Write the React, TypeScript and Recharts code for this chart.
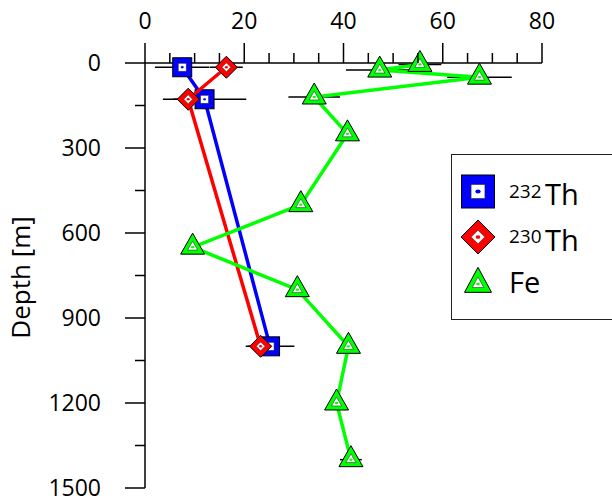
import React from 'react';
import { ScatterChart, Scatter, XAxis, YAxis, ErrorBar, Legend } from 'recharts';

// ---- data ----
const th232Depth = [15, 128, 1000];
const th232Conc = [7.5, 12.0, 25.2];
const th232Err = [5.5, 8.4, 4.9];

const th230Depth = [15, 128, 1000];
const th230Conc = [16.4, 8.7, 23.3];
const th230Err = [3.3, 3.0, 2.5];

const feDepth = [5, 25, 50, 120, 250, 500, 650, 800, 1000, 1200, 1400];
const feConc = [55.4, 47.3, 67.4, 34.1, 40.8, 31.4, 9.6, 30.7, 41.0, 38.6, 41.5];
const feErr = [4.3, 6.8, 6.5, 5.2, 1.5, 1.5, 1.5, 1.5, 1.5, 1.5, 2.2];

const xTicks = [0, 5, 10, 15, 20, 25, 30, 35, 40, 45, 50, 55, 60, 65, 70, 75, 80];
const yTicks = [0, 150, 300, 450, 600, 750, 900, 1050, 1200, 1350, 1500];
const xLabelStep = 20;
const yLabelStep = 300;

const build = (depth: number[], conc: number[], err: number[]) =>
  depth.map((d, i) => ({ x: conc[i], y: d, err: err[i] }));

const th232Data = build(th232Depth, th232Conc, th232Err);
const th230Data = build(th230Depth, th230Conc, th230Err);
const feData = build(feDepth, feConc, feErr);

const BLUE = '#0000ff';
const RED = '#ff0000';
const GREEN = '#00ff00';
const FONT = '"Open Sans", "Noto Sans", sans-serif';

// ---- marker shapes ----
const SquareMark = ({ cx, cy, markSize = 19 }: any) => {
  const s = markSize;
  const h = s / 2;
  const i = s * 0.21;
  return (
    <g>
      <rect x={cx - h} y={cy - h} width={s} height={s} fill={BLUE} stroke="#000" strokeWidth={1} />
      <rect x={cx - i} y={cy - i} width={2 * i} height={2 * i} fill="#fff" stroke="#333" strokeWidth={0.6} />
      <ellipse cx={cx} cy={cy} rx={s * 0.08} ry={s * 0.06} fill={BLUE} />
    </g>
  );
};

const DiamondMark = ({ cx, cy, markSize = 22 }: any) => {
  const h = markSize / 2;
  const i = h * 0.4;
  return (
    <g>
      <polygon points={`${cx},${cy - h} ${cx + h},${cy} ${cx},${cy + h} ${cx - h},${cy}`} fill={RED} stroke="#000" strokeWidth={1} />
      <polygon points={`${cx},${cy - i} ${cx + i},${cy} ${cx},${cy + i} ${cx - i},${cy}`} fill="#fff" stroke="#333" strokeWidth={0.6} />
      <ellipse cx={cx} cy={cy} rx={markSize * 0.07} ry={markSize * 0.055} fill={RED} />
    </g>
  );
};

const TriangleMark = ({ cx, cy, triW = 24, triH = 21 }: any) => {
  // centred on the centroid
  const w = triW;
  const hgt = triH;
  const top = cy - (2 / 3) * hgt;
  const bot = cy + hgt / 3;
  const s = 0.42;
  const it = cy - (2 / 3) * hgt * s;
  const ib = cy + (hgt / 3) * s;
  const iw = (w / 2) * s;
  return (
    <g>
      <polygon points={`${cx},${top} ${cx + w / 2},${bot} ${cx - w / 2},${bot}`} fill={GREEN} stroke="#000" strokeWidth={1} />
      <polygon points={`${cx},${it} ${cx + iw},${ib} ${cx - iw},${ib}`} fill="#fff" stroke="#333" strokeWidth={0.6} />
      <ellipse cx={cx} cy={cy} rx={w * 0.07} ry={w * 0.05} fill={GREEN} />
    </g>
  );
};

const NoMark = () => <g />;

// ---- axis ticks ----
const XTick = (props: any) => {
  const { x, y, payload } = props;
  const major = payload.value % xLabelStep === 0;
  const len = major ? 20 : 10;
  return (
    <g>
      <line x1={x} y1={y} x2={x} y2={y - len} stroke="#000" strokeWidth={1.5} />
      {major && (
        <text x={x} y={y - len - 14} textAnchor="middle" fontFamily={FONT} fontSize={23} fill="#000">
          {payload.value}
        </text>
      )}
    </g>
  );
};

const YTick = (props: any) => {
  const { x, y, payload } = props;
  const major = payload.value % yLabelStep === 0;
  const len = major ? 20 : 10;
  return (
    <g>
      <line x1={x} y1={y} x2={x - len} y2={y} stroke="#000" strokeWidth={1.5} />
      {major && (
        <text x={x - 44} y={y} dy="0.34em" textAnchor="end" fontFamily={FONT} fontSize={23} fill="#000">
          {payload.value}
        </text>
      )}
    </g>
  );
};

const DepthLabel = (props: any) => {
  const vb = props.viewBox || { x: 45, y: 63, width: 100, height: 425 };
  const cx = vb.x - 25;
  const cy = vb.y + vb.height / 2 + 2;
  return (
    <text
      x={cx}
      y={cy}
      transform={`rotate(-90 ${cx} ${cy})`}
      textAnchor="middle"
      dominantBaseline="central"
      fontFamily={FONT}
      fontSize={26}
      fill="#000"
    >
      Depth [m]
    </text>
  );
};

// ---- legend ----
const legendOrder = ['th232', 'th230', 'fe'];
const legendRows: Record<string, { sup?: string; main: string }> = {
  th232: { sup: '232', main: 'Th' },
  th230: { sup: '230', main: 'Th' },
  fe: { main: 'Fe' },
};

const LegendContent = (props: any) => {
  const payload = (props.payload || [])
    .filter((p: any) => legendRows[p.value])
    .sort((a: any, b: any) => legendOrder.indexOf(a.value) - legendOrder.indexOf(b.value));
  const rowY = [37.5, 83, 126];
  return (
    <div
      style={{
        width: 180,
        height: 166,
        border: '1.5px solid #222',
        boxSizing: 'border-box',
        background: '#fff',
      }}
    >
      <svg width={180} height={166} style={{ display: 'block', marginLeft: -1.5, marginTop: -1.5 }}>
        {payload.map((p: any, i: number) => {
          const row = legendRows[p.value];
          const cy = rowY[i];
          let mark = null;
          if (p.value === 'th232') mark = <SquareMark cx={27} cy={cy} markSize={33} />;
          else if (p.value === 'th230') mark = <DiamondMark cx={27} cy={cy} markSize={34} />;
          else mark = <TriangleMark cx={27} cy={cy + 4} triW={27} triH={25} />;
          return (
            <g key={p.value}>
              {mark}
              {row.sup ? (
                <>
                  <text x={58} y={cy + 6} fontFamily={FONT} fontSize={19} fill="#000">
                    {row.sup}
                  </text>
                  <text x={94} y={cy + 13.5} fontFamily={FONT} fontSize={29} fill="#000">
                    {row.main}
                  </text>
                </>
              ) : (
                <text x={58} y={cy + 13} fontFamily={FONT} fontSize={29} fill="#000">
                  {row.main}
                </text>
              )}
            </g>
          );
        })}
      </svg>
    </div>
  );
};

export default function App() {
  return (
    <div>
      <style>{'body{margin:0;overflow:hidden;background:#fff}'}</style>
      <ScatterChart
        width={612}
        height={500}
        margin={{ top: 23, right: 70, bottom: 12, left: 45 }}
        style={{ fontFamily: FONT }}
      >
        <XAxis
          type="number"
          dataKey="x"
          orientation="top"
          domain={[0, 80]}
          ticks={xTicks}
          interval={0}
          height={40}
          tickSize={0}
          tickMargin={0}
          tickLine={false}
          tick={<XTick />}
          axisLine={{ stroke: '#000', strokeWidth: 1.5 }}
        />
        <YAxis
          type="number"
          dataKey="y"
          reversed
          domain={[0, 1500]}
          ticks={yTicks}
          interval={0}
          width={100}
          tickSize={0}
          tickMargin={0}
          tickLine={false}
          tick={<YTick />}
          axisLine={{ stroke: '#000', strokeWidth: 1.5 }}
          label={<DepthLabel />}
        />
        <Legend
          layout="vertical"
          align="center"
          verticalAlign="middle"
          wrapperStyle={{ left: 451, top: 154, width: 180, height: 166 }}
          content={<LegendContent />}
        />
        <Scatter
          name="th232"
          data={th232Data}
          fill={BLUE}
          line={{ stroke: BLUE, strokeWidth: 3.5 }}
          shape={<SquareMark />}
          isAnimationActive={false}
        />
        <Scatter
          name="th230"
          data={th230Data}
          fill={RED}
          line={{ stroke: RED, strokeWidth: 3.5 }}
          shape={<DiamondMark />}
          isAnimationActive={false}
        />
        <Scatter
          name="fe"
          data={feData}
          fill={GREEN}
          line={{ stroke: GREEN, strokeWidth: 3.5 }}
          shape={<TriangleMark />}
          isAnimationActive={false}
        />
        <Scatter name="th232err" data={th232Data} legendType="none" shape={<NoMark />} isAnimationActive={false}>
          <ErrorBar dataKey="err" direction="x" width={0} stroke="#000" strokeWidth={1.5} isAnimationActive={false} />
        </Scatter>
        <Scatter name="th230err" data={th230Data} legendType="none" shape={<NoMark />} isAnimationActive={false}>
          <ErrorBar dataKey="err" direction="x" width={0} stroke="#000" strokeWidth={1.5} isAnimationActive={false} />
        </Scatter>
        <Scatter name="feerr" data={feData} legendType="none" shape={<NoMark />} isAnimationActive={false}>
          <ErrorBar dataKey="err" direction="x" width={0} stroke="#000" strokeWidth={1.5} isAnimationActive={false} />
        </Scatter>
      </ScatterChart>
    </div>
  );
}
